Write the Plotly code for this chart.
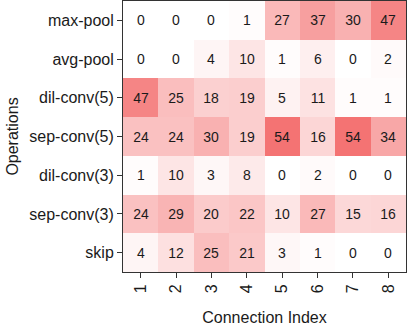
import plotly.graph_objects as go

operations = ["max-pool", "avg-pool", "dil-conv(5)", "sep-conv(5)", "dil-conv(3)", "sep-conv(3)", "skip"]
connections = ["1", "2", "3", "4", "5", "6", "7", "8"]
values = [
    [0, 0, 0, 1, 27, 37, 30, 47],
    [0, 0, 4, 10, 1, 6, 0, 2],
    [47, 25, 18, 19, 5, 11, 1, 1],
    [24, 24, 30, 19, 54, 16, 54, 34],
    [1, 10, 3, 8, 0, 2, 0, 0],
    [24, 29, 20, 22, 10, 27, 15, 16],
    [4, 12, 25, 21, 3, 1, 0, 0],
]

fig = go.Figure(go.Heatmap(
    z=values, x=connections, y=operations,
    colorscale=[[0, "#ffffff"], [1, "#f47373"]],
    zmin=0, zmax=54, showscale=False,
    text=[[str(v) for v in row] for row in values],
    texttemplate="%{text}",
    textfont=dict(size=14, color="#1a1a1a", family="Liberation Sans"),
    xgap=0, ygap=0,
))

fig.update_layout(
    width=407, height=327,
    margin=dict(l=123, r=1, t=1, b=55),
    plot_bgcolor="white", paper_bgcolor="white",
    font=dict(family="Liberation Sans", color="#1a1a1a", size=16),
)
fig.update_xaxes(
    type="category", tickangle=-90, ticks="outside", ticklen=5, tickcolor="#333",
    showline=True, linecolor="#333", linewidth=1, mirror=True,
    title=dict(text="Connection Index", font=dict(size=16), standoff=19),
    tickfont=dict(size=16),
)
fig.update_yaxes(
    type="category", autorange="reversed", ticks="outside", ticklen=5, tickcolor="#333",
    showline=True, linecolor="#333", linewidth=1, mirror=True,
    title=dict(text="Operations", font=dict(size=16), standoff=6),
    tickfont=dict(size=16),
)

fig.write_html("out.html", config={"displayModeBar": False},
               post_script="document.body.style.margin='0';")
